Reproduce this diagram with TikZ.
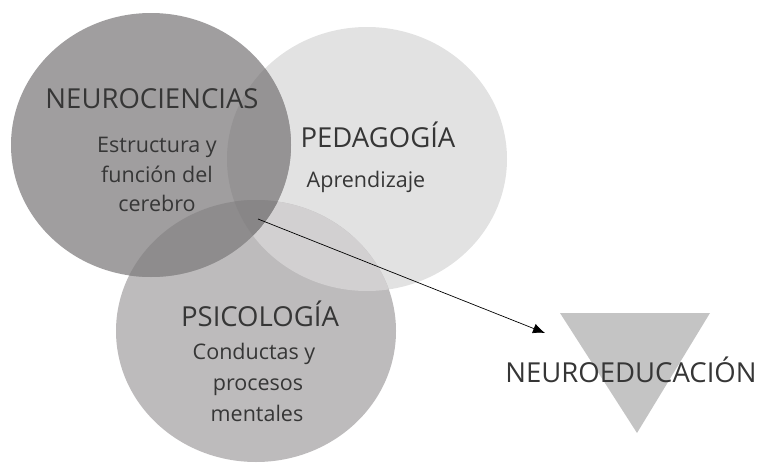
\documentclass[tikz,border=0pt]{standalone}
\usepackage{fontspec}
\setmainfont{Open Sans}
\usetikzlibrary{arrows.meta}
\definecolor{neurocol}{HTML}{A09E9F}
\definecolor{pedcol}{HTML}{E2E2E2}
\definecolor{psicol}{HTML}{BDBBBC}
\definecolor{neupedcol}{HTML}{959394}
\definecolor{neupsicol}{HTML}{8E8C8D}
\definecolor{pedpsicol}{HTML}{D2D0D1}
\definecolor{allcol}{HTML}{888687}
\definecolor{tricol}{HTML}{C4C4C4}
\definecolor{txtcol}{HTML}{363636}
\def\neurocirc{(151,145) ellipse (140pt and 132pt)}
\def\pedcirc{(367,159) ellipse (140pt and 132pt)}
\def\psicirc{(256,331) ellipse (140pt and 131pt)}
\tikzset{
  titulo/.style={anchor=base, text=txtcol, font=\fontsize{27.5}{27.5}\selectfont, inner sep=0pt},
  linea/.style={anchor=base, text=txtcol, font=\fontsize{21.5}{21.5}\selectfont, inner sep=0pt}
}
\begin{document}
\begin{tikzpicture}[x=1pt,y=-1pt,>={Latex[length=12pt,width=10pt]}]
				\useasboundingbox (0,0) rectangle (761,463);
				% circulos
				\fill[pedcol] \pedcirc;
				\fill[psicol] \psicirc;
				\begin{scope}
					\clip \pedcirc;
					\fill[pedpsicol] \psicirc;
				\end{scope}
				\fill[neurocol] \neurocirc;
				\begin{scope}
					\clip \neurocirc;
					\fill[neupedcol] \pedcirc;
					\fill[neupsicol] \psicirc;
					\clip \pedcirc;
					\fill[allcol] \psicirc;
				\end{scope}
				% triangulo
				\fill[tricol] (560,313) -- (710,313) -- (637,433) -- cycle;
				% textos
				\node[titulo] (neuro) at (152,108) {NEUROCIENCIAS};
				\node[linea] (neuro1) at (157,152) {Estructura y};
				\node[linea] (neuro2) at (157,182) {función del};
				\node[linea] (neuro3) at (157,211) {cerebro};
				\node[titulo] (ped) at (378,147) {PEDAGOGÍA};
				\node[linea] (ped1) at (366,187) {Aprendizaje};
				\node[titulo] (psi) at (260,326) {PSICOLOGÍA};
				\node[linea] (psi1) at (254,359) {Conductas y};
				\node[linea] (psi2) at (258,390) {procesos};
				\node[linea] (psi3) at (257,421) {mentales};
				\node[titulo] (neuroedu) at (631,382) {NEUROEDUCACIÓN};
				% flecha
				\coordinate (inicio) at (258,219);
				\coordinate (fin) at (545,333);
				\draw[->, line width=0.7pt] (inicio) -- (fin);
			\end{tikzpicture}
\end{document}
